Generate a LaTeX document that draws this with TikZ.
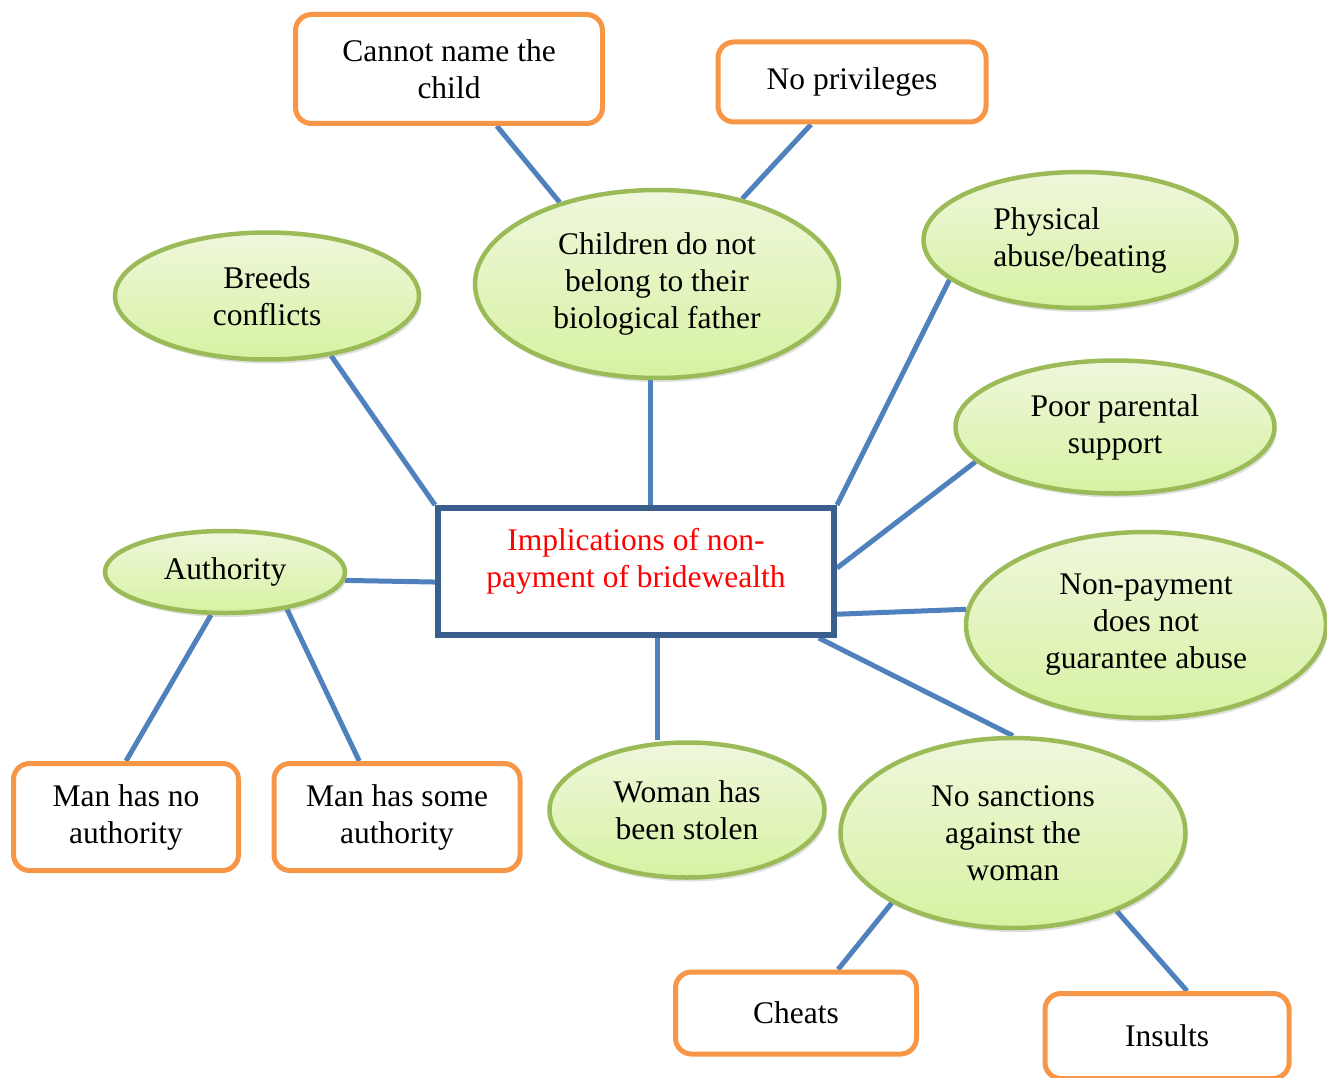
\documentclass[tikz,border=0pt]{standalone}
\usepackage{fontspec}
\setmainfont{Liberation Serif}
\usetikzlibrary{shapes.geometric,shadows,backgrounds,calc}
\definecolor{linkblue}{HTML}{4F81BD}
\definecolor{hubedge}{HTML}{3A5F8C}
\definecolor{bubbleedge}{HTML}{9BBB59}
\definecolor{bubbletop}{HTML}{EFF7DC}
\definecolor{bubblebot}{HTML}{D7F2A2}
\definecolor{tagedge}{HTML}{F79646}
\begin{document}
\begin{tikzpicture}[x=1pt,y=-1pt,
  every node/.style={font=\fontsize{31.5}{37}\selectfont},
  bubble/.style={ellipse, draw=bubbleedge, line width=4.5pt,
    top color=bubbletop, bottom color=bubblebot, align=center, inner sep=0pt,
    drop shadow={opacity=0.25, shadow xshift=2pt, shadow yshift=-4pt}},
  tag/.style={rectangle, rounded corners=16pt, draw=tagedge, line width=5pt,
    fill=white, align=center, inner sep=0pt},
  hub/.style={rectangle, draw=hubedge, line width=6pt, fill=white, inner sep=0pt},
  link/.style={draw=linkblue, line width=5pt}]
\useasboundingbox (0,0) rectangle (1327,1078);

% central topic
\node[hub, minimum width=396pt, minimum height=127pt,
  label={[text=red, align=center, yshift=10pt]center:Implications of non-\\payment of bridewealth}]
  (ctr) at (636,571.5) {};

% ellipses
\node[bubble, minimum width=364pt, minimum height=188pt] (chl) at (657,284)
  {Children do not\\belong to their\\biological father};
\node[bubble, minimum width=304pt, minimum height=127pt] (brd) at (267,296)
  {Breeds\\conflicts};
\node[bubble, minimum width=313pt, minimum height=136pt, align=left] (phy) at (1080,240)
  {Physical\\abuse/beating};
\node[bubble, minimum width=319pt, minimum height=133pt] (ppr) at (1115,427)
  {Poor parental\\support};
\node[bubble, minimum width=360pt, minimum height=186pt] (npg) at (1146,625)
  {Non-payment\\does not\\guarantee abuse};
\node[bubble, minimum width=240pt, minimum height=82pt] (aut) at (225,572)
  {Authority};
\node[bubble, minimum width=275pt, minimum height=135pt] (wom) at (687,810)
  {Woman has\\been stolen};
\node[bubble, minimum width=345pt, minimum height=190pt] (nsc) at (1013,833)
  {No sanctions\\against the\\woman};

% rounded boxes
\node[tag, minimum width=307pt, minimum height=109pt] (cnn) at (449,69)
  {Cannot name the\\child};
\node[tag, minimum width=268pt, minimum height=80pt] (npv) at (852,82)
  {No privileges};
\node[tag, minimum width=225pt, minimum height=107pt] (mno) at (126,817)
  {Man has no\\authority};
\node[tag, minimum width=246pt, minimum height=107pt] (msm) at (397,817)
  {Man has some\\authority};
\node[tag, minimum width=241pt, minimum height=82pt] (cht) at (796,1013)
  {Cheats};
\node[tag, minimum width=244pt, minimum height=85pt] (ins) at (1167,1036)
  {Insults};

% connectors
\begin{scope}[on background layer]
  \draw[link] (cnn.-50) -- (chl.140.5);
  \draw[link] (npv.226) -- (chl.45);
  \draw[link] (brd.-43) -- (ctr.north west);
  \draw[link] (chl.266) -- (chl.266 |- ctr.north);
  \draw[link] (phy.197.8) -- (ctr.north east);
  \draw[link] (ppr.194.5) -- (ctr.1);
  \draw[link] (npg.175.3) -- (ctr.-12);
  \draw[link] (aut.-4.2) -- (ctr.183.6);
  \draw[link] (ctr.-20.9) -- (nsc.north);
  \draw[link] (ctr.-72.5) -- (ctr.-72.5 |- wom.north);
  \draw[link] (aut.-108.4) -- (mno.north);
  \draw[link] (aut.-31.9) -- (msm.124.9);
  \draw[link] (nsc.210.3) -- (cht.46);
  \draw[link] (nsc.-37.8) -- (ins.66.6);
\end{scope}
\end{tikzpicture}
\end{document}
